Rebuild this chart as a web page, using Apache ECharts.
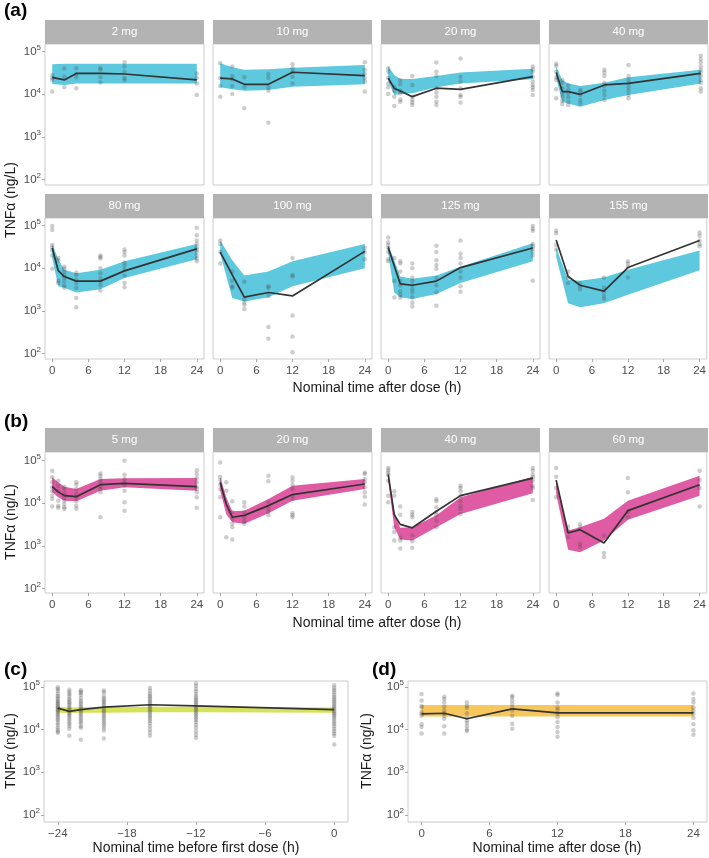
<!DOCTYPE html>
<html>
<head>
<meta charset="utf-8">
<script src="https://cdn.jsdelivr.net/npm/echarts@6/dist/echarts.min.js"></script>
<style>
html,body{margin:0;padding:0;background:#fff;}
#chart{width:709px;height:858px;}
</style>
</head>
<body>
<div id="chart"></div>
<script>
// ---------------- DATA ----------------
const A_LABELS = ['2 mg','10 mg','20 mg','40 mg','80 mg','100 mg','125 mg','155 mg'];
const A_TIMES = [
  [0,2,4,8,12,24],
  [0,2,4,8,12,24],
  [0,1,2,4,8,12,24],
  [0,1,2,4,8,12,24],
  [0,1,2,4,8,12,24],
  [0,2,4,8,12,24],
  [0,1,2,4,8,12,24],
  [0,2,4,8,12,24]
];
const A_MEDIAN = [
  [2.5e4, 2.18e4, 3.1e4, 3.1e4, 3.0e4, 2.18e4],
  [2.4e4, 2.3e4, 1.72e4, 1.72e4, 3.3e4, 2.75e4],
  [2.4e4, 1.39e4, 1.2e4, 8.8e3, 1.39e4, 1.31e4, 2.6e4],
  [3.25e4, 1.16e4, 1.16e4, 1.0e4, 1.66e4, 1.8e4, 3.1e4],
  [3.0e4, 8.8e3, 6.4e3, 5.0e3, 5.0e3, 8.7e3, 2.87e4],
  [2.4e4, 7.0e3, 2.1e3, 2.7e3, 2.24e3, 2.5e4],
  [3.1e4, 1.15e4, 4.3e3, 4.0e3, 5.0e3, 1.04e4, 3.0e4],
  [4.6e4, 6.4e3, 4.0e3, 2.9e3, 1.04e4, 4.5e4]
];
const A_LOWER = [
  [1.75e4, 1.66e4, 1.8e4, 1.8e4, 1.8e4, 1.8e4],
  [1.46e4, 1.31e4, 1.22e4, 1.26e4, 1.5e4, 1.72e4],
  [2.0e4, 9.6e3, 1.02e4, 1.06e4, 1.46e4, 1.8e4, 2.26e4],
  [2.4e4, 6.7e3, 6.1e3, 5.1e3, 7.3e3, 9.6e3, 1.8e4],
  [1.7e4, 3.8e3, 3.5e3, 2.7e3, 3.2e3, 5.9e3, 1.64e4],
  [2.2e4, 2.0e3, 1.66e3, 2.1e3, 3.8e3, 1.0e4],
  [2.2e4, 2.7e3, 2.1e3, 1.9e3, 2.5e3, 4.5e3, 1.47e4],
  [1.85e4, 1.5e3, 1.21e3, 1.5e3, 2.4e3, 9.0e3]
];
const A_UPPER = [
  [5.1e4, 5.2e4, 5.2e4, 5.2e4, 5.2e4, 5.2e4],
  [5.4e4, 4.3e4, 3.75e4, 3.9e4, 4.2e4, 4.9e4],
  [4.5e4, 2.86e4, 2.3e4, 2.3e4, 2.7e4, 3.25e4, 4.0e4],
  [4.5e4, 2.18e4, 1.8e4, 1.57e4, 1.88e4, 2.5e4, 3.75e4],
  [3.7e4, 1.64e4, 9.2e3, 7.7e3, 9.2e3, 1.47e4, 3.7e4],
  [4.5e4, 1.55e4, 6.8e3, 8.4e3, 1.47e4, 3.7e4],
  [3.55e4, 1.55e4, 6.4e3, 5.7e3, 6.8e3, 1.09e4, 3.9e4],
  [3.1e4, 5.4e3, 5.1e3, 6.1e3, 9.2e3, 2.63e4]
];
// observed points: [time, [values...]]
const A_OBS = [
  [[0,[2.86e4,2.4e4,2.18e4,1.16e4]],[2,[4.1e4,2.6e4,1.46e4]],[4,[4.1e4,3.0e4,2.5e4,1.39e4]],
   [8,[4.1e4,3.75e4,2.5e4,1.9e4]],[12,[5.7e4,4.5e4,3.4e4,2.4e4,2.18e4]],[24,[3.1e4,2.4e4,1.8e4,9.6e3]]],
  [[0,[5.4e4,2.4e4,1.57e4,8.8e3]],[2,[4.5e4,2.7e4,2.26e4,1.57e4,1.02e4]],[4,[2.5e4,1.46e4,4.7e3]],
   [8,[3.0e4,2.4e4,1.46e4,1.22e4,2.15e3]],[12,[5.1e4,4.1e4,3.4e4,2.6e4,1.8e4]],[24,[5.7e4,3.75e4,3.0e4,2.4e4,2.0e4,1.16e4]]],
  [[0,[4.1e4,3.4e4,2.4e4,1.8e4,1.46e4,1.02e4]],[1,[1.46e4,1.22e4,8.8e3,5.3e3]],
   [2,[2.18e4,1.75e4,1.22e4,1.06e4,7.6e3,6.7e3]],[4,[2.7e4,1.66e4,8.8e3,7.3e3,6.4e3,5.6e3]],
   [8,[5.6e4,3.4e4,2.7e4,1.39e4,1.1e4,8.8e3,6.7e3,5.6e3]],[12,[6.9e4,2.6e4,2.0e4,1.39e4,9.6e3,8.8e3,6.4e3]],
   [24,[4.5e4,3.9e4,3.4e4,2.6e4,2.0e4,1.66e4,1.46e4,1.26e4,9.6e3]]],
  [[0,[5.2e4,4.7e4,3.4e4,2.5e4,2.18e4,1.31e4,8.1e3]],[1,[2.18e4,1.88e4,1.39e4,1.06e4,8.8e3,7.1e3,5.9e3]],
   [2,[1.66e4,1.31e4,1.06e4,8.5e3,6.7e3,5.6e3]],[4,[1.26e4,1.16e4,9.6e3,7.3e3,6.1e3]],
   [8,[3.75e4,3.25e4,2.7e4,1.88e4,1.57e4,1.22e4,9.6e3,7.3e3]],[12,[4.9e4,2.7e4,2.18e4,1.8e4,1.46e4,1.22e4,9.6e3,8.1e3]],
   [24,[8.0e4,6.7e4,5.6e4,4.5e4,3.75e4,3.25e4,2.7e4,2.18e4,1.88e4,1.39e4,1.16e4]]],
  [[0,[9.8e4,7.9e4,3.55e4,3.1e4,2.63e4,2.0e4,9.7e3]],[1,[1.75e4,1.55e4,5.1e3,4.5e3]],
   [2,[1.09e4,9.7e3,8.4e3,7.0e3,6.1e3,5.0e3,4.0e3,3.5e3]],[4,[8.0e3,7.0e3,5.4e3,4.5e3,3.5e3,2.0e3,1.21e3]],
   [8,[2.0e4,1.85e4,1.7e4,1.0e4,7.7e3,5.9e3,4.8e3,4.0e3,3.0e3]],[12,[2.77e4,2.4e4,2.0e4,1.37e4,1.15e4,9.2e3,6.8e3,4.5e3,3.6e3]],
   [24,[9.0e4,6.0e4,4.5e4,3.7e4,3.1e4,2.77e4,2.4e4,2.0e4,1.7e4,1.47e4]]],
  [[0,[4.5e4,3.7e4,2.4e4,1.3e4]],[2,[8.4e3,5.1e3,3.8e3,3.5e3]],[4,[4.8e3,1.9e3,1.58e3,1.4e3,1.11e3]],
   [8,[3.8e3,3.5e3,2.24e3,4.2e2,2.2e2]],[12,[1.75e4,7.0e3,6.4e3,7.8e2,2.5e2,1.07e2]],[24,[3.0e4,2.4e4,1.64e4]]],
  [[0,[5.3e4,4.1e4,3.55e4,3.0e4,2.4e4,1.64e4,1.47e4]],[1,[1.75e4,5.0e3,2.06e3]],
   [2,[1.47e4,1.3e4,8.4e3,5.0e3,4.0e3,2.9e3,2.4e3,2.06e3]],
   [4,[1.3e4,1.0e4,6.1e3,5.0e3,4.0e3,3.2e3,2.7e3,2.06e3,1.58e3,1.26e3]],
   [8,[3.4e4,2.4e4,1.55e4,1.19e4,9.7e3,5.9e3,4.0e3,2.7e3,1.32e3]],[12,[4.5e4,2.2e4,1.75e4,1.3e4,8.4e3,6.1e3,3.8e3,2.8e3]],
   [24,[9.8e4,8.5e4,7.6e4,3.7e4,3.3e4,2.87e4,2.4e4,2.0e4,5.1e3]]],
  [[0,[7.6e4,6.7e4,3.55e4,2.77e4]],[2,[8.4e3,6.1e3,4.5e3]],[4,[4.5e3,3.8e3,3.2e3]],
   [8,[6.1e3,3.5e3,2.8e3,2.24e3,1.9e3]],[12,[1.47e4,1.3e4,1.09e4,6.1e3]],[24,[6.9e4,5.8e4,4.5e4,3.7e4,3.3e4]]]
];

const B_LABELS = ['5 mg','20 mg','40 mg','60 mg'];
const B_TIMES = [
  [0,1,2,4,8,12,24],
  [0,1,2,4,8,12,24],
  [0,1,2,4,8,12,24],
  [0,2,4,8,12,24]
];
const B_MEDIAN = [
  [2.45e4, 1.85e4, 1.51e4, 1.43e4, 2.73e4, 2.94e4, 2.45e4],
  [3.1e4, 9.6e3, 4.7e3, 5.2e3, 8.8e3, 1.6e4, 2.83e4],
  [4.7e4, 5.4e3, 3.2e3, 2.65e3, 6.5e3, 1.51e4, 3.9e4],
  [3.5e4, 2.0e3, 2.4e3, 1.16e3, 6.7e3, 2.73e4]
];
const B_LOWER = [
  [1.81e4, 1.38e4, 1.15e4, 1.11e4, 1.98e4, 2.37e4, 1.98e4],
  [1.98e4, 5.6e3, 3.6e3, 3.3e3, 5.8e3, 1.15e4, 2.16e4],
  [3.4e4, 2.75e3, 1.4e3, 1.34e3, 2.75e3, 5.6e3, 1.71e4],
  [1.65e4, 8.1e2, 7.1e2, 1.34e3, 4.1e3, 1.51e4]
];
const B_UPPER = [
  [4.06e4, 3.1e4, 2.45e4, 2.16e4, 3.7e4, 3.85e4, 3.9e4],
  [4.06e4, 1.38e4, 6.5e3, 6.7e3, 1.26e4, 2.59e4, 3.7e4],
  [5.5e4, 6.2e3, 2.65e3, 2.75e3, 5.2e3, 1.38e4, 4.2e4],
  [3.4e4, 2.3e3, 2.75e3, 4.3e3, 1.15e4, 4.4e4]
];
const B_OBS = [
  [[0,[5.8e4,4.06e4,3.1e4,2.37e4,1.91e4,1.51e4,1.26e4,8.4e3]],[1,[3.4e4,2.59e4,1.98e4,1.15e4,8.8e3,7.8e3]],
   [2,[2.45e4,2.16e4,1.71e4,1.38e4,1.15e4,9.6e3,8.1e3,7.4e3]],[4,[3.1e4,2.73e4,2.16e4,1.65e4,1.38e4,1.11e4,8.8e3,7.4e3]],
   [8,[5.0e4,4.4e4,3.7e4,3.1e4,2.45e4,2.16e4,1.81e4,4.7e3]],[12,[1.0e5,4.7e4,3.7e4,3.1e4,2.59e4,1.98e4,1.05e4,6.7e3]],
   [24,[6.0e4,4.85e4,3.9e4,3.1e4,2.45e4,2.16e4,1.81e4,1.38e4,7.8e3]]],
  [[0,[9.1e4,4.2e4,3.5e4,2.73e4,2.16e4,1.38e4,4.7e3]],[1,[3.1e4,1.98e4,1.6e3]],
   [2,[1.11e4,6.2e3,4.3e3,3.3e3,2.75e3,1.4e3]],[4,[1.05e4,8.4e3,6.2e3,4.7e3,3.8e3,3.3e3]],
   [8,[4.4e4,3.27e4,1.05e4,7.4e3,6.2e3,5.2e3]],[12,[4.06e4,3.4e4,2.73e4,2.16e4,1.51e4,1.26e4,5.8e3,5.2e3,4.7e3]],
   [24,[5.3e4,4.85e4,3.7e4,3.1e4,2.37e4,1.81e4,1.43e4,9.3e3]]],
  [[0,[6.7e4,6.0e4,5.3e4,4.7e4,3.4e4,1.51e4,1.05e4]],[1,[1.91e4,1.51e4,2.75e3,2.1e3,1.34e3]],
   [2,[8.4e3,5.4e3,1.55e3,1.34e3,8.6e2]],[4,[6.2e3,5.4e3,4.7e3,1.75e3,1.29e3,9.0e2]],
   [8,[1.26e4,1.11e4,8.1e3,6.2e3,5.2e3,3.9e3,2.75e3]],[12,[2.59e4,2.28e4,1.91e4,1.51e4,1.11e4,8.8e3,7.4e3,5.6e3]],
   [24,[6.7e4,5.8e4,4.7e4,4.06e4,3.4e4,2.59e4,2.28e4,1.2e4]]],
  [[0,[6.7e4,4.2e4,2.28e4,1.38e4]],[2,[2.85e3,2.3e3,1.6e3]],[4,[3.2e3,2.75e3,1.12e3,9.4e2]],
   [8,[1.75e3,6.8e2,5.5e2]],[12,[3.9e4,1.81e4,6.2e3,4.7e3]],[24,[5.8e4,3.5e4,2.28e4,8.4e3]]]
];

const C_TIMES = [-24,-23,-22,-20,-16,-12,0];
const C_MEDIAN = [3.2e4, 2.67e4, 2.93e4, 3.37e4, 3.83e4, 3.62e4, 2.93e4];
const C_LOWER = [2.5e4, 2.45e4, 2.5e4, 2.5e4, 2.55e4, 2.55e4, 2.5e4];
const C_UPPER = [3.4e4, 3.3e4, 3.35e4, 3.4e4, 3.45e4, 3.45e4, 3.3e4];
const C_OBS = [
  [-24,[9.8e4,9.0e4,8.1e4,7.0e4,6.2e4,5.7e4,5.2e4,4.7e4,4.5e4,4.1e4,3.9e4,3.6e4,3.3e4,3.2e4,2.9e4,2.8e4,2.6e4,2.35e4,2.2e4,2.0e4,1.8e4,1.65e4,1.45e4,1.3e4,1.12e4,1.0e4,9.0e3,8.4e3]],
  [-23,[8.6e4,7.6e4,6.8e4,6.1e4,5.3e4,4.9e4,4.4e4,4.1e4,3.7e4,3.3e4,3.1e4,2.8e4,2.5e4,2.3e4,2.1e4,1.9e4,1.7e4,1.5e4,1.35e4,1.2e4,1.05e4,7.2e3]],
  [-22,[8.4e4,7.8e4,7.2e4,6.5e4,5.5e4,4.8e4,4.3e4,3.9e4,3.5e4,3.2e4,2.9e4,2.7e4,2.4e4,2.2e4,1.95e4,1.75e4,1.55e4,1.4e4,1.2e4,1.1e4,5.8e3]],
  [-20,[8.3e4,7.5e4,6.1e4,5.4e4,4.9e4,4.5e4,4.1e4,3.7e4,3.3e4,3.0e4,2.7e4,2.5e4,2.2e4,2.0e4,1.8e4,1.6e4,1.4e4,1.25e4,1.1e4,9.5e3,6.2e3]],
  [-16,[9.4e4,8.2e4,7.0e4,6.3e4,5.7e4,5.2e4,4.7e4,4.3e4,3.9e4,3.6e4,3.3e4,3.0e4,2.7e4,2.5e4,2.2e4,2.0e4,1.8e4,1.6e4,1.4e4,1.2e4,1.0e4,8.5e3,7.2e3]],
  [-12,[1.2e5,1.05e5,9.0e4,7.8e4,6.8e4,6.0e4,5.4e4,4.9e4,4.5e4,4.1e4,3.7e4,3.4e4,3.1e4,2.8e4,2.55e4,2.3e4,2.1e4,1.9e4,1.7e4,1.5e4,1.3e4,1.1e4,9.0e3,7.6e3,6.4e3]],
  [0,[1.1e5,9.5e4,8.4e4,7.5e4,6.6e4,5.9e4,5.3e4,4.8e4,4.4e4,4.0e4,3.6e4,3.3e4,3.0e4,2.7e4,2.5e4,2.3e4,2.1e4,1.9e4,1.7e4,1.5e4,1.35e4,1.2e4,1.05e4,9.2e3,8.1e3,7.2e3,4.5e3]]
];

const D_TIMES = [0,2,4,8,12,24];
const D_MEDIAN = [2.34e4, 2.42e4, 1.8e4, 3.05e4, 2.47e4, 2.47e4];
const D_LOWER = [2.03e4, 2.03e4, 2.03e4, 2.03e4, 2.03e4, 2.03e4];
const D_UPPER = [3.78e4, 3.78e4, 3.78e4, 3.78e4, 3.78e4, 3.78e4];
const D_OBS = [
  [0,[6.8e4,4.8e4,3.6e4,3.3e4,2.6e4,2.34e4,2.1e4,1.33e4,1.15e4,8.1e3]],
  [2,[5.9e4,5.2e4,4.3e4,3.45e4,2.8e4,2.42e4,2.1e4,1.8e4,1.2e4,8.1e3]],
  [4,[4.3e4,3.6e4,3.2e4,2.42e4,1.9e4,1.64e4,1.42e4,1.2e4,1.0e4,9.3e3]],
  [8,[6.2e4,5.7e4,4.8e4,4.0e4,3.3e4,2.8e4,2.1e4,1.37e4,1.05e4]],
  [12,[7.0e4,6.5e4,4.3e4,3.3e4,2.9e4,2.34e4,1.96e4,1.5e4,1.15e4,8.8e3,6.8e3]],
  [24,[7.0e4,5.2e4,4.3e4,3.3e4,2.8e4,2.34e4,1.9e4,1.33e4,9.6e3,7.6e3]]
];

const X_TICKS_AFTER = [0,6,12,18,24];
const X_TICKS_BEFORE = [-24,-18,-12,-6,0];
const Y_TICKS = [1e2,1e3,1e4,1e5];

// ---------------- STYLE ----------------
const FONT = '"Liberation Sans", Arial, Helvetica, sans-serif';
const COL_A = '#5DC8DE';
const COL_B = '#DF5BA3';
const COL_C = '#D6E25A';
const COL_D = '#F6C75C';
const STRIP = '#B3B3B3';
const BORDER = '#CCCCCC';
const TICKCOL = '#4D4D4D';

const grids = [], xAxes = [], yAxes = [], series = [], graphics = [];

function yLabelFmt(v){
  const e = Math.round(Math.log10(v));
  return '10{s|' + e + '}';
}
function xLabelFmt(v){
  return v < 0 ? '\u2212' + Math.abs(v) : String(v);
}

function addPanel(o){
  const gi = grids.length;
  grids.push({left:o.left, top:o.top, width:o.width, height:o.height, show:true,
    borderColor:BORDER, borderWidth:1, backgroundColor:'#fff', containLabel:false});
  xAxes.push({type:'value', gridIndex:gi, min:o.xmin, max:o.xmax, position:'bottom',
    axisLine:{show:false, onZero:false}, splitLine:{show:false},
    axisTick:{show:o.showX, length:3, lineStyle:{color:'#AAAAAA'}, customValues:o.xticks},
    axisLabel:{show:o.showX, customValues:o.xticks, formatter:xLabelFmt, color:TICKCOL,
      fontSize:11.5, fontFamily:FONT, margin:6}});
  yAxes.push({type:'log', logBase:10, gridIndex:gi, min:o.ymin, max:o.ymax, position:'left',
    axisLine:{show:false, onZero:false}, splitLine:{show:false},
    axisTick:{show:o.showY, length:3, lineStyle:{color:'#AAAAAA'}, customValues:Y_TICKS},
    axisLabel:{show:o.showY, customValues:Y_TICKS, formatter:yLabelFmt, color:TICKCOL,
      fontSize:11.5, fontFamily:FONT, margin:4,
      rich:{s:{fontSize:8, color:TICKCOL, fontFamily:FONT, padding:[0,0,8,0]}}}});
  // band
  const band = o.times.map((t,i)=>[t, o.lower[i], o.upper[i]]);
  series.push({type:'custom', xAxisIndex:gi, yAxisIndex:gi, z:1, clip:true, silent:true,
    data:band, encode:{x:0, y:[1,2]},
    renderItem:function(params, api){
      if (params.dataIndex !== 0) return null;
      const up = [], dn = [];
      for (let i=0;i<band.length;i++){
        up.push(api.coord([band[i][0], band[i][2]]));
        dn.push(api.coord([band[i][0], band[i][1]]));
      }
      return {type:'polygon', shape:{points:up.concat(dn.reverse())}, style:{fill:o.color}};
    }});
  // observations
  const pts = [];
  o.obs.forEach(function(g){ g[1].forEach(function(v){ pts.push([g[0], v]); }); });
  series.push({type:'scatter', xAxisIndex:gi, yAxisIndex:gi, z:2, silent:true,
    data:pts, symbolSize:4.5, itemStyle:{color:'#4a4a4a', opacity:0.28}});
  // median
  series.push({type:'line', xAxisIndex:gi, yAxisIndex:gi, z:3, silent:true,
    data:o.times.map((t,i)=>[t, o.median[i]]), showSymbol:false, symbol:'none',
    lineStyle:{color:'#333333', width:1.7}});
  if (o.strip){
    graphics.push({type:'rect', shape:{x:o.left, y:o.top-24, width:o.width, height:24},
      style:{fill:STRIP}, z:10});
    graphics.push({type:'text', x:o.left+o.width/2, y:o.top-12, z:11,
      style:{text:o.strip, fill:'#fff', font:'11.5px ' + FONT, textAlign:'center', textVerticalAlign:'middle'}});
  }
}

const COLS = [45, 213, 381, 549];
const PW = 159, PH = 141;
const A_YMIN = 74, A_YMAX = 152000;
const B_YMIN = 78, B_YMAX = 160000;
const CD_YMIN = 68, CD_YMAX = 138000;

for (let i=0;i<8;i++){
  const c = i%4, r = Math.floor(i/4);
  addPanel({left:COLS[c], top: r===0?44:218, width:PW, height:PH,
    xmin:-1.2, xmax:25.2, ymin:A_YMIN, ymax:A_YMAX, xticks:X_TICKS_AFTER,
    showX: r===1, showY: c===0, strip:A_LABELS[i],
    times:A_TIMES[i], median:A_MEDIAN[i], lower:A_LOWER[i], upper:A_UPPER[i], obs:A_OBS[i], color:COL_A});
}
for (let i=0;i<4;i++){
  addPanel({left:COLS[i], top:452, width:PW, height:PH,
    xmin:-1.2, xmax:25.2, ymin:B_YMIN, ymax:B_YMAX, xticks:X_TICKS_AFTER,
    showX:true, showY: i===0, strip:B_LABELS[i],
    times:B_TIMES[i], median:B_MEDIAN[i], lower:B_LOWER[i], upper:B_UPPER[i], obs:B_OBS[i], color:COL_B});
}
addPanel({left:44, top:681, width:304, height:PH,
  xmin:-25.2, xmax:1.2, ymin:CD_YMIN, ymax:CD_YMAX, xticks:X_TICKS_BEFORE,
  showX:true, showY:true, strip:null,
  times:C_TIMES, median:C_MEDIAN, lower:C_LOWER, upper:C_UPPER, obs:C_OBS, color:COL_C});
addPanel({left:408, top:681, width:299, height:PH,
  xmin:-1.2, xmax:25.2, ymin:CD_YMIN, ymax:CD_YMAX, xticks:X_TICKS_AFTER,
  showX:true, showY:true, strip:null,
  times:D_TIMES, median:D_MEDIAN, lower:D_LOWER, upper:D_UPPER, obs:D_OBS, color:COL_D});

// panel letters
[['(a)',4,11],['(b)',4,422],['(c)',4,670],['(d)',372,670]].forEach(function(p){
  graphics.push({type:'text', x:p[1], y:p[2], z:11,
    style:{text:p[0], fill:'#000', font:'bold 19px ' + FONT, textAlign:'left', textVerticalAlign:'middle'}});
});
// axis titles
[['Nominal time after dose (h)',377,388],['Nominal time after dose (h)',377,623],
 ['Nominal time before first dose (h)',196,848],['Nominal time after dose (h)',557,848]].forEach(function(p){
  graphics.push({type:'text', x:p[1], y:p[2], z:11,
    style:{text:p[0], fill:'#1a1a1a', font:'14px ' + FONT, textAlign:'center', textVerticalAlign:'middle'}});
});
[[11,200],[11,522],[11,751],[367,751]].forEach(function(p){
  graphics.push({type:'text', x:p[0], y:p[1], rotation:Math.PI/2, z:11,
    style:{text:'TNF\u03B1 (ng/L)', fill:'#1a1a1a', font:'14px ' + FONT, textAlign:'center', textVerticalAlign:'middle'}});
});

const chart = echarts.init(document.getElementById('chart'), null, {renderer:'canvas'});
chart.setOption({
  animation:false,
  backgroundColor:'#fff',
  grid:grids, xAxis:xAxes, yAxis:yAxes, series:series,
  graphic:{elements:graphics}
});
</script>
</body>
</html>
